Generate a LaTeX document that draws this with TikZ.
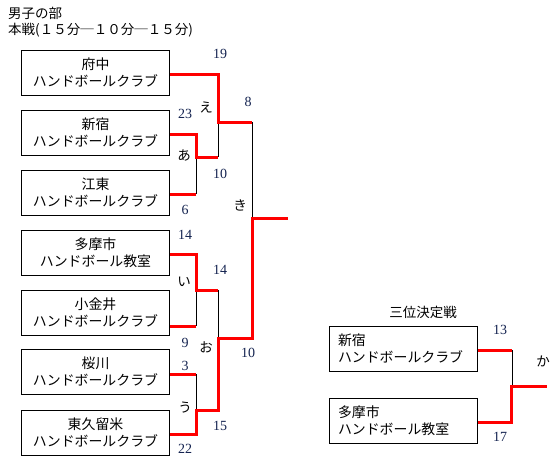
\documentclass[tikz,border=0pt]{standalone}
\usepackage{fontspec}
\setmainfont{Noto Sans CJK JP}
\newfontfamily\numfont{Liberation Serif}
\definecolor{numc}{RGB}{20,35,80}
\begin{document}
\begin{tikzpicture}[x=1pt,y=-1pt,
 team/.style={draw, line width=0.8pt, minimum width=148pt, minimum height=45pt, inner sep=0pt, align=center, font=\fontsize{13.9}{17.5}\selectfont},
 teamleft/.style={team, align=left, text width=131pt},
 win/.style={draw=red, line width=3pt},
 lose/.style={draw=black, line width=0.8pt},
 score/.style={font=\numfont\fontsize{14}{15}\selectfont, text=numc, inner sep=0pt},
 kana/.style={font=\fontsize{13.5}{14}\selectfont, inner sep=0pt},
 head/.style={font=\fontsize{13.5}{14}\selectfont, inner sep=0pt, anchor=west}]
\useasboundingbox (0,0) rectangle (559,467);
% header
\node[head] (h1) at (8,13) {男子の部};
\node[head] (h2) at (8,30) {本戦(１５分─１０分─１５分)};
% teams
\node[team] (b1) at (95.5,72.5) {府中\\ハンドボールクラブ};
\node[team] (b2) at (95.5,132.5) {新宿\\ハンドボールクラブ};
\node[team] (b3) at (95.5,192.5) {江東\\ハンドボールクラブ};
\node[team] (b4) at (95.5,252.5) {多摩市\\ハンドボール教室};
\node[team] (b5) at (95.5,312.5) {小金井\\ハンドボールクラブ};
\node[team] (b6) at (95.5,371.5) {桜川\\ハンドボールクラブ};
\node[team] (b7) at (95.5,432.5) {東久留米\\ハンドボールクラブ};
% junctions
\coordinate (a1) at (196,134);
\coordinate (a2) at (196,157);
\coordinate (a3) at (196,194);
\coordinate (e1) at (218,74);
\coordinate (e2) at (218,122);
\coordinate (e3) at (218,157);
\coordinate (k1) at (252,122);
\coordinate (k2) at (252,218);
\coordinate (k3) at (252,338);
\coordinate (fin) at (288,218);
\coordinate (i1) at (196,254);
\coordinate (i2) at (196,290);
\coordinate (i3) at (196,326);
\coordinate (o1) at (218,290);
\coordinate (o2) at (218,338);
\coordinate (o3) at (218,410);
\coordinate (u1) at (196,374);
\coordinate (u2) at (196,410);
\coordinate (u3) at (196,434);
% black (losing) lines
\draw[lose] (a2) -- (a3);
\draw[lose] (e2) -- (e3);
\draw[lose] (k1) -- (k2);
\draw[lose] (i2) -- (i3);
\draw[lose] (o1) -- (o2);
\draw[lose] (u1) -- (u2);
% red (winning) lines
\draw[win] (b1.east |- e1) -- (e1) -- (e2) -- (k1);
\draw[win] (b2.east |- a1) -- (a1) -- (a2) -- (e3);
\draw[win] (b3.east |- a3) -- (a3);
\draw[win] (b4.east |- i1) -- (i1) -- (i2) -- (o1);
\draw[win] (b5.east |- i3) -- (i3);
\draw[win] (b6.east |- u1) -- (u1);
\draw[win] (b7.east |- u3) -- (u3) -- (u2) -- (o3) -- (o2) -- (k3) -- (k2) -- (fin);
% scores
\node[score] (s1) at (220,54) {19};
\node[score] (s2) at (248,102) {8};
\node[score] (s3) at (185,114) {23};
\node[score] (s4) at (220,174) {10};
\node[score] (s5) at (185,210) {6};
\node[score] (s6) at (185,235) {14};
\node[score] (s7) at (220,270) {14};
\node[score] (s8) at (185,343) {9};
\node[score] (s9) at (248,353) {10};
\node[score] (s10) at (185,366) {3};
\node[score] (s11) at (220,426) {15};
\node[score] (s12) at (185,449) {22};
% kana
\node[kana] (m1) at (206,107) {え};
\node[kana] (m2) at (184,155) {あ};
\node[kana] (m3) at (240,205) {き};
\node[kana] (m4) at (184,282) {い};
\node[kana] (m5) at (206,347) {お};
\node[kana] (m6) at (185,408) {う};
% third place
\node[kana] (t0) at (423,312) {三位決定戦};
\node[teamleft] (ta) at (403.5,348.5) {新宿\\ハンドボールクラブ};
\node[teamleft] (tb) at (403.5,420.5) {多摩市\\ハンドボール教室};
\coordinate (c1) at (512,350);
\coordinate (c2) at (511,386);
\coordinate (c3) at (511,422);
\coordinate (cf) at (547,386);
\draw[lose] (c1) -- (c1 |- c3);
\draw[win] (ta.east |- c1) -- (c1);
\draw[win] (tb.east |- c3) -- (c3) -- (c2) -- (cf);
\node[score] (s13) at (500,330) {13};
\node[score] (s14) at (500,437) {17};
\node[kana] (m7) at (543,361) {か};
\end{tikzpicture}
\end{document}
